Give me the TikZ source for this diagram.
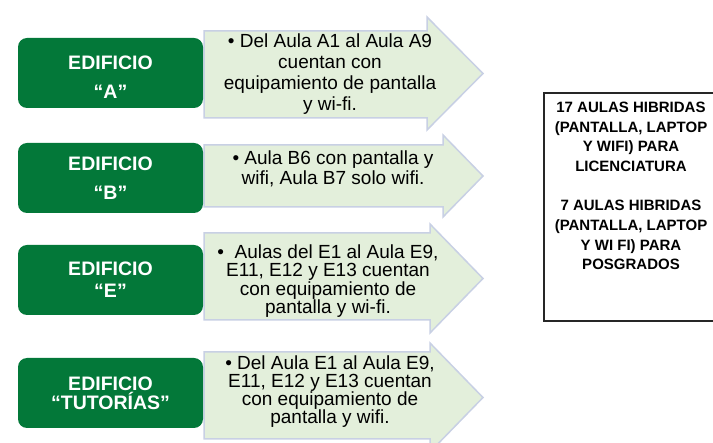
\documentclass[tikz,border=0pt]{standalone}
\usepackage{fontspec}
\setmainfont{Liberation Sans}
\definecolor{verdeedif}{RGB}{3,120,57}
\definecolor{verdeclaro}{RGB}{227,239,219}
\definecolor{bordeflecha}{RGB}{200,208,228}

\begin{document}
\begin{tikzpicture}[x=1pt, y=-1pt,
      edificio/.style ={fill=verdeedif, rounded corners=9pt, minimum width=185pt, minimum height=70pt,
                        inner sep=0pt, text=white, align=center, font=\fontsize{19.5}{21}\selectfont\bfseries},
      flecha/.style ={fill=verdeclaro, draw=bordeflecha, line width=1.5pt},
      detalle/.style ={align=center, inner sep=0pt},
      resumen/.style ={draw=black!85, line width=1.2pt, minimum width=174pt, minimum height=228pt, inner sep=0pt},
      totales/.style ={align=center, inner sep=0pt, font=\fontsize{15}{19.7}\selectfont\bfseries}]

   \clip (0,0) rectangle (713,443);

   % flechas
   \draw[flecha] (204,31) -- (427,31) -- (427,17) -- (483,73.5) -- (427,130) -- (427,118) -- (204,118) -- cycle;
   \draw[flecha] (204,145) -- (443,145) -- (443,135) -- (483,176) -- (443,217) -- (443,207) -- (204,207) -- cycle;
   \draw[flecha] (204,233) -- (430,233) -- (430,224) -- (483,278.5) -- (430,333) -- (430,320) -- (204,320) -- cycle;
   \draw[flecha] (204,352) -- (430,352) -- (430,343) -- (483,397.5) -- (430,452) -- (430,439) -- (204,439) -- cycle;

   \node[edificio] (A) at (110.5,73)  {\rule{0pt}{22pt}\\[-21pt]EDIFICIO\\[8pt]“A”};
   \node[edificio] (B) at (110.5,178) {EDIFICIO\\[8pt]“B”};
   \node[edificio] (E) at (110.5,280) {EDIFICIO\\[1pt]“E”};
   \node[edificio] (T) at (110.5,393) {EDIFICIO\\[-2pt]“TUTORÍAS”};

   \node[detalle, font=\fontsize{19}{21}\selectfont] (infoA) at (330,74)
      {• Del Aula A1 al Aula A9\\cuentan con\\equipamiento de pantalla\\y wi-fi.};
   \node[detalle, font=\fontsize{19}{20}\selectfont] (infoB) at (333,169)
      {• Aula B6 con pantalla y\\wifi, Aula B7 solo wifi.};
   \node[detalle, font=\fontsize{19}{18.5}\selectfont] (infoE) at (328,281)
      {•\ \ Aulas del E1 al Aula E9,\\E11, E12 y E13 cuentan\\con equipamiento de\\pantalla y wi-fi.};
   \node[detalle, font=\fontsize{19}{18}\selectfont] (infoT) at (330,392)
      {• Del Aula E1 al Aula E9,\\E11, E12 y E13 cuentan\\con equipamiento de\\pantalla y wifi.};

   \node[resumen] (caja) at (631,207) {};
   \node[totales] (cifras) at (631,186)
      {17 AULAS HIBRIDAS\\(PANTALLA, LAPTOP\\Y WIFI) PARA\\LICENCIATURA\\[19.7pt]
       7 AULAS HIBRIDAS\\(PANTALLA, LAPTOP\\Y WI FI) PARA\\POSGRADOS};

 \end{tikzpicture}
\end{document}
